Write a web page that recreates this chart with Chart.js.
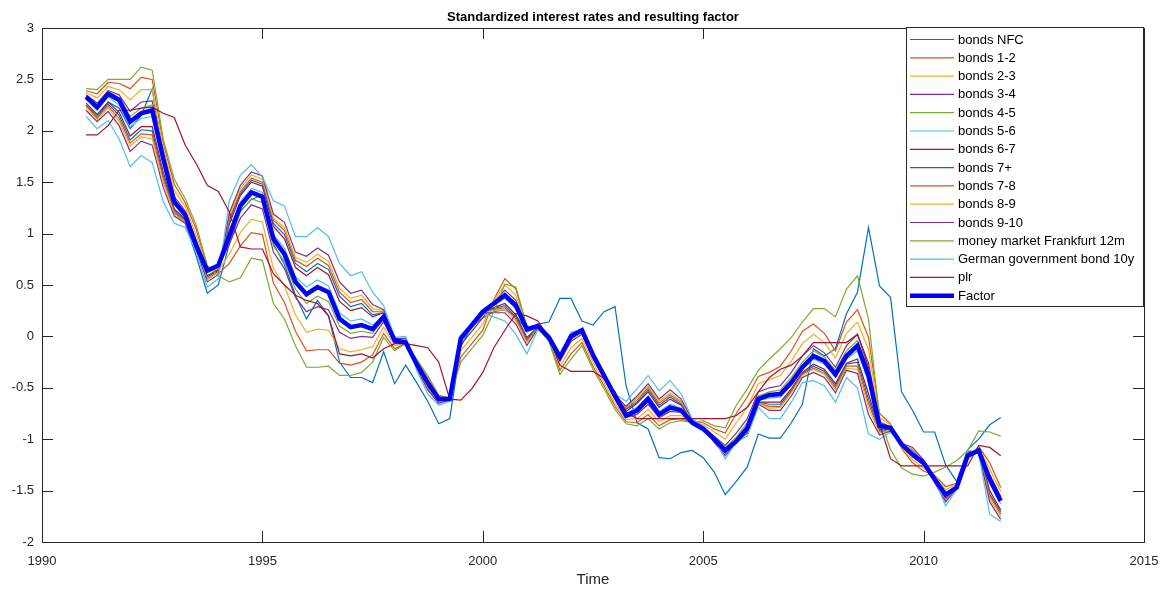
<!DOCTYPE html>
<html>
<head>
<meta charset="utf-8">
<title>Standardized interest rates and resulting factor</title>
<script src="https://cdn.jsdelivr.net/npm/chart.js@4.4.0/dist/chart.umd.min.js"></script>
<style>
  html, body { margin: 0; padding: 0; background: #ffffff; }
  #wrap { width: 1166px; height: 589px; }
</style>
</head>
<body>
<div id="wrap"><canvas id="chart" width="1166" height="589"></canvas></div>
<script>
// Quarterly observations, 1991Q1 - 2011Q4
const quarters = [
    1991, 1991.25, 1991.5, 1991.75, 1992, 1992.25, 1992.5, 1992.75,
    1993, 1993.25, 1993.5, 1993.75, 1994, 1994.25, 1994.5, 1994.75,
    1995, 1995.25, 1995.5, 1995.75, 1996, 1996.25, 1996.5, 1996.75,
    1997, 1997.25, 1997.5, 1997.75, 1998, 1998.25, 1998.5, 1998.75,
    1999, 1999.25, 1999.5, 1999.75, 2000, 2000.25, 2000.5, 2000.75,
    2001, 2001.25, 2001.5, 2001.75, 2002, 2002.25, 2002.5, 2002.75,
    2003, 2003.25, 2003.5, 2003.75, 2004, 2004.25, 2004.5, 2004.75,
    2005, 2005.25, 2005.5, 2005.75, 2006, 2006.25, 2006.5, 2006.75,
    2007, 2007.25, 2007.5, 2007.75, 2008, 2008.25, 2008.5, 2008.75,
    2009, 2009.25, 2009.5, 2009.75, 2010, 2010.25, 2010.5, 2010.75,
    2011, 2011.25, 2011.5, 2011.75
];

// Standardized series
const bondsNFC = [
    2.25, 2.12, 2.28, 2.22, 2.02, 2.15, 2.41, 1.70, 1.20, 1.10,
    0.78, 0.42, 0.50, 0.90, 1.22, 1.33, 1.38, 0.90, 0.70, 0.40,
    0.17, 0.35, 0.20, -0.25, -0.40, -0.40, -0.45, -0.15, -0.46, -0.28,
    -0.45, -0.63, -0.85, -0.80, -0.10, 0.10, 0.18, 0.24, 0.26, 0.20,
    0.06, 0.12, 0.14, 0.37, 0.37, 0.15, 0.11, 0.24, 0.29, -0.48,
    -0.84, -0.90, -1.18, -1.19, -1.13, -1.11, -1.18, -1.32, -1.54, -1.41,
    -1.27, -0.95, -0.99, -0.99, -0.84, -0.66, -0.12, -0.19, -0.12, 0.22,
    0.43, 1.06, 0.49, 0.38, -0.54, -0.72, -0.93, -0.93, -1.25, -1.41,
    -1.10, -1.00, -0.86, -0.79
];
const bonds12 = [
    2.39, 2.36, 2.47, 2.46, 2.41, 2.52, 2.50, 1.88, 1.48, 1.30,
    1.04, 0.68, 0.61, 0.71, 0.88, 1.01, 0.99, 0.52, 0.33, 0.05,
    -0.14, -0.13, -0.13, -0.26, -0.28, -0.25, -0.18, 0.03, -0.12, -0.07,
    -0.23, -0.40, -0.58, -0.60, -0.20, -0.07, 0.06, 0.36, 0.56, 0.46,
    0.09, 0.08, -0.04, -0.33, -0.17, -0.06, -0.29, -0.48, -0.68, -0.83,
    -0.84, -0.76, -0.87, -0.81, -0.80, -0.84, -0.84, -0.90, -0.94, -0.75,
    -0.59, -0.39, -0.35, -0.29, -0.14, 0.05, 0.12, 0.03, -0.14, 0.14,
    0.26, -0.01, -0.75, -0.85, -1.09, -1.23, -1.31, -1.35, -1.46, -1.43,
    -1.18, -1.07, -1.23, -1.47
];
const bonds23 = [
    2.37, 2.32, 2.43, 2.40, 2.30, 2.40, 2.40, 1.83, 1.42, 1.26,
    0.98, 0.67, 0.64, 0.80, 1.01, 1.14, 1.11, 0.66, 0.49, 0.21,
    0.04, 0.07, 0.06, -0.12, -0.15, -0.13, -0.10, 0.09, -0.09, -0.07,
    -0.24, -0.41, -0.59, -0.60, -0.14, -0.01, 0.12, 0.35, 0.50, 0.40,
    0.09, 0.09, -0.03, -0.29, -0.11, -0.02, -0.25, -0.45, -0.65, -0.81,
    -0.80, -0.71, -0.83, -0.77, -0.77, -0.84, -0.86, -0.93, -1.00, -0.84,
    -0.69, -0.46, -0.42, -0.38, -0.24, -0.07, 0.02, -0.06, -0.21, 0.03,
    0.14, -0.13, -0.79, -0.86, -1.08, -1.20, -1.28, -1.36, -1.49, -1.44,
    -1.17, -1.08, -1.29, -1.51
];
const bonds34 = [
    2.35, 2.27, 2.39, 2.35, 2.19, 2.28, 2.29, 1.78, 1.36, 1.22,
    0.93, 0.65, 0.67, 0.90, 1.15, 1.28, 1.24, 0.82, 0.66, 0.38,
    0.24, 0.29, 0.26, 0.04, -0.02, 0.00, -0.01, 0.14, -0.06, -0.06,
    -0.26, -0.43, -0.60, -0.61, -0.08, 0.05, 0.18, 0.33, 0.45, 0.35,
    0.08, 0.10, -0.02, -0.24, -0.05, 0.02, -0.21, -0.41, -0.61, -0.79,
    -0.76, -0.66, -0.79, -0.73, -0.74, -0.84, -0.88, -0.97, -1.06, -0.94,
    -0.80, -0.54, -0.50, -0.48, -0.35, -0.19, -0.09, -0.16, -0.30, -0.09,
    0.02, -0.26, -0.83, -0.88, -1.06, -1.17, -1.25, -1.38, -1.52, -1.46,
    -1.16, -1.10, -1.34, -1.56
];
const bonds45 = [
    2.34, 2.25, 2.38, 2.32, 2.14, 2.22, 2.25, 1.75, 1.34, 1.20,
    0.90, 0.65, 0.68, 0.94, 1.21, 1.34, 1.30, 0.88, 0.73, 0.46,
    0.32, 0.39, 0.34, 0.10, 0.03, 0.05, 0.03, 0.17, -0.05, -0.06,
    -0.26, -0.44, -0.61, -0.61, -0.05, 0.08, 0.21, 0.33, 0.42, 0.32,
    0.07, 0.10, -0.01, -0.22, -0.03, 0.04, -0.20, -0.40, -0.60, -0.78,
    -0.74, -0.63, -0.78, -0.71, -0.73, -0.84, -0.89, -0.98, -1.08, -0.98,
    -0.84, -0.58, -0.54, -0.52, -0.40, -0.25, -0.14, -0.20, -0.33, -0.14,
    -0.04, -0.32, -0.85, -0.88, -1.06, -1.16, -1.24, -1.38, -1.53, -1.46,
    -1.16, -1.10, -1.37, -1.58
];
const bonds56 = [
    2.31, 2.20, 2.33, 2.25, 2.04, 2.12, 2.14, 1.68, 1.28, 1.17,
    0.87, 0.62, 0.67, 1.02, 1.31, 1.44, 1.40, 0.99, 0.86, 0.58,
    0.48, 0.55, 0.49, 0.23, 0.15, 0.17, 0.11, 0.20, -0.04, -0.05,
    -0.28, -0.46, -0.62, -0.61, -0.02, 0.11, 0.24, 0.30, 0.37, 0.27,
    0.04, 0.10, -0.01, -0.20, 0.00, 0.06, -0.18, -0.38, -0.58, -0.75,
    -0.69, -0.58, -0.73, -0.66, -0.70, -0.84, -0.90, -1.00, -1.12, -1.02,
    -0.90, -0.62, -0.60, -0.59, -0.47, -0.32, -0.22, -0.27, -0.40, -0.22,
    -0.14, -0.45, -0.89, -0.89, -1.05, -1.14, -1.22, -1.39, -1.55, -1.47,
    -1.15, -1.11, -1.43, -1.63
];
const bonds67 = [
    2.27, 2.16, 2.28, 2.18, 1.95, 2.04, 2.04, 1.60, 1.24, 1.14,
    0.86, 0.59, 0.65, 1.09, 1.37, 1.50, 1.46, 1.07, 0.95, 0.67,
    0.59, 0.67, 0.60, 0.34, 0.25, 0.28, 0.19, 0.23, -0.03, -0.04,
    -0.29, -0.49, -0.63, -0.62, -0.01, 0.11, 0.23, 0.28, 0.32, 0.21,
    -0.01, 0.09, -0.01, -0.20, 0.01, 0.06, -0.19, -0.38, -0.57, -0.73,
    -0.65, -0.54, -0.69, -0.61, -0.67, -0.83, -0.89, -1.01, -1.14, -1.02,
    -0.92, -0.64, -0.64, -0.64, -0.51, -0.35, -0.27, -0.32, -0.46, -0.26,
    -0.22, -0.56, -0.91, -0.90, -1.05, -1.12, -1.21, -1.40, -1.58, -1.48,
    -1.14, -1.12, -1.50, -1.69
];
const bonds7plus = [
    2.25, 2.15, 2.26, 2.15, 1.91, 2.01, 2.00, 1.56, 1.23, 1.13,
    0.86, 0.58, 0.64, 1.12, 1.39, 1.52, 1.48, 1.10, 0.99, 0.71,
    0.63, 0.71, 0.65, 0.39, 0.29, 0.32, 0.21, 0.23, -0.03, -0.04,
    -0.29, -0.49, -0.63, -0.62, -0.01, 0.11, 0.23, 0.27, 0.30, 0.19,
    -0.03, 0.09, -0.01, -0.20, 0.02, 0.06, -0.20, -0.37, -0.57, -0.71,
    -0.64, -0.52, -0.67, -0.59, -0.66, -0.82, -0.89, -1.01, -1.14, -1.02,
    -0.92, -0.64, -0.66, -0.66, -0.53, -0.36, -0.29, -0.34, -0.48, -0.27,
    -0.25, -0.61, -0.92, -0.91, -1.05, -1.11, -1.21, -1.40, -1.58, -1.48,
    -1.14, -1.12, -1.53, -1.71
];
const bonds78 = [
    2.24, 2.13, 2.24, 2.12, 1.88, 1.97, 1.96, 1.53, 1.21, 1.12,
    0.85, 0.56, 0.63, 1.14, 1.41, 1.54, 1.50, 1.13, 1.03, 0.74,
    0.68, 0.76, 0.69, 0.43, 0.33, 0.36, 0.24, 0.24, -0.03, -0.03,
    -0.30, -0.50, -0.64, -0.62, -0.01, 0.11, 0.23, 0.26, 0.28, 0.17,
    -0.05, 0.09, -0.01, -0.20, 0.02, 0.06, -0.20, -0.37, -0.57, -0.70,
    -0.62, -0.50, -0.65, -0.57, -0.64, -0.82, -0.89, -1.02, -1.15, -1.03,
    -0.93, -0.65, -0.68, -0.68, -0.54, -0.37, -0.31, -0.36, -0.50, -0.29,
    -0.29, -0.65, -0.93, -0.91, -1.05, -1.10, -1.21, -1.41, -1.59, -1.48,
    -1.13, -1.12, -1.55, -1.73
];
const bonds89 = [
    2.23, 2.11, 2.22, 2.09, 1.85, 1.94, 1.92, 1.50, 1.19, 1.11,
    0.85, 0.55, 0.62, 1.17, 1.44, 1.57, 1.53, 1.15, 1.06, 0.77,
    0.72, 0.80, 0.73, 0.47, 0.37, 0.40, 0.27, 0.25, -0.02, -0.03,
    -0.30, -0.51, -0.64, -0.62, 0.00, 0.12, 0.23, 0.25, 0.26, 0.15,
    -0.06, 0.08, -0.02, -0.19, 0.02, 0.07, -0.20, -0.37, -0.57, -0.69,
    -0.60, -0.48, -0.63, -0.55, -0.63, -0.82, -0.88, -1.02, -1.15, -1.03,
    -0.93, -0.65, -0.70, -0.69, -0.55, -0.38, -0.32, -0.37, -0.52, -0.31,
    -0.32, -0.69, -0.94, -0.91, -1.04, -1.10, -1.20, -1.41, -1.60, -1.48,
    -1.13, -1.13, -1.58, -1.75
];
const bonds910 = [
    2.20, 2.09, 2.19, 2.05, 1.80, 1.90, 1.86, 1.45, 1.17, 1.10,
    0.84, 0.53, 0.60, 1.20, 1.47, 1.60, 1.56, 1.19, 1.11, 0.82,
    0.78, 0.86, 0.79, 0.53, 0.42, 0.45, 0.31, 0.26, -0.02, -0.02,
    -0.31, -0.52, -0.65, -0.62, 0.00, 0.12, 0.23, 0.23, 0.23, 0.12,
    -0.09, 0.08, -0.02, -0.19, 0.03, 0.07, -0.21, -0.36, -0.57, -0.68,
    -0.58, -0.46, -0.61, -0.52, -0.61, -0.81, -0.88, -1.03, -1.16, -1.03,
    -0.94, -0.66, -0.72, -0.72, -0.58, -0.40, -0.35, -0.40, -0.55, -0.33,
    -0.36, -0.76, -0.96, -0.92, -1.04, -1.08, -1.20, -1.42, -1.61, -1.48,
    -1.12, -1.13, -1.61, -1.78
];
const moneyMarket12m = [
    2.41, 2.40, 2.50, 2.50, 2.50, 2.62, 2.59, 1.92, 1.53, 1.34,
    1.08, 0.69, 0.59, 0.53, 0.57, 0.76, 0.74, 0.32, 0.17, -0.09,
    -0.30, -0.30, -0.29, -0.38, -0.38, -0.35, -0.25, -0.01, -0.14, -0.07,
    -0.22, -0.38, -0.57, -0.60, -0.25, -0.12, 0.01, 0.24, 0.51, 0.48,
    0.10, 0.08, -0.05, -0.37, -0.22, -0.09, -0.32, -0.51, -0.71, -0.85,
    -0.87, -0.80, -0.90, -0.84, -0.82, -0.84, -0.82, -0.87, -0.89, -0.67,
    -0.51, -0.33, -0.22, -0.12, -0.01, 0.14, 0.27, 0.27, 0.19, 0.46,
    0.59, 0.17, -0.80, -1.10, -1.28, -1.34, -1.36, -1.32, -1.27, -1.21,
    -1.11, -0.92, -0.93, -0.97
];
const germanGov10y = [
    2.14, 2.02, 2.10, 1.92, 1.65, 1.76, 1.69, 1.31, 1.10, 1.06,
    0.82, 0.48, 0.56, 1.32, 1.57, 1.67, 1.55, 1.32, 1.27, 0.97,
    0.97, 1.06, 0.97, 0.71, 0.59, 0.63, 0.43, 0.30, -0.01, 0.00,
    -0.33, -0.56, -0.67, -0.63, 0.01, 0.12, 0.22, 0.19, 0.15, 0.02,
    -0.17, 0.07, -0.02, -0.19, 0.04, 0.07, -0.22, -0.38, -0.56, -0.63,
    -0.51, -0.38, -0.53, -0.43, -0.56, -0.80, -0.87, -1.00, -1.19, -1.03,
    -0.97, -0.69, -0.80, -0.80, -0.64, -0.45, -0.43, -0.48, -0.64, -0.40,
    -0.50, -0.95, -1.00, -0.93, -1.04, -1.12, -1.25, -1.39, -1.65, -1.49,
    -1.10, -1.14, -1.73, -1.80
];
const plr = [
    1.96, 1.96, 2.05, 2.20, 2.20, 2.22, 2.23, 2.17, 2.13, 1.86,
    1.68, 1.47, 1.41, 1.21, 0.87, 0.85, 0.85, 0.61, 0.50, 0.40,
    0.35, 0.32, 0.20, -0.17, -0.19, -0.17, -0.21, -0.12, -0.07, -0.07,
    -0.09, -0.11, -0.25, -0.61, -0.62, -0.51, -0.35, -0.11, 0.06, 0.22,
    0.20, 0.15, -0.01, -0.28, -0.34, -0.34, -0.34, -0.41, -0.54, -0.74,
    -0.80, -0.80, -0.80, -0.80, -0.80, -0.80, -0.80, -0.80, -0.80, -0.77,
    -0.69, -0.54, -0.40, -0.32, -0.28, -0.19, -0.06, -0.06, -0.06, -0.06,
    0.02, -0.30, -0.85, -1.19, -1.26, -1.26, -1.26, -1.26, -1.26, -1.26,
    -1.26, -1.06, -1.08, -1.16
];
const factor = [
    2.33, 2.23, 2.36, 2.30, 2.09, 2.17, 2.20, 1.73, 1.31, 1.18,
    0.88, 0.64, 0.69, 0.98, 1.27, 1.40, 1.36, 0.95, 0.80, 0.53,
    0.41, 0.48, 0.43, 0.17, 0.09, 0.11, 0.07, 0.19, -0.04, -0.06,
    -0.27, -0.45, -0.61, -0.61, -0.02, 0.11, 0.24, 0.32, 0.40, 0.30,
    0.07, 0.10, -0.01, -0.20, 0.00, 0.06, -0.18, -0.38, -0.58, -0.77,
    -0.72, -0.61, -0.76, -0.69, -0.72, -0.84, -0.90, -1.00, -1.11, -1.02,
    -0.89, -0.61, -0.57, -0.56, -0.45, -0.30, -0.19, -0.24, -0.37, -0.19,
    -0.09, -0.38, -0.87, -0.89, -1.05, -1.15, -1.23, -1.39, -1.54, -1.47,
    -1.16, -1.11, -1.39, -1.60
];

const xTicks = [1990, 1995, 2000, 2005, 2010, 2015];
const yTicks = [-2, -1.5, -1, -0.5, 0, 0.5, 1, 1.5, 2, 2.5, 3];

// MATLAB default colour order
const seriesList = [
    { label: 'bonds NFC', values: bondsNFC, color: '#0072BD' },
    { label: 'bonds 1-2', values: bonds12, color: '#D95319' },
    { label: 'bonds 2-3', values: bonds23, color: '#EDB120' },
    { label: 'bonds 3-4', values: bonds34, color: '#7E2F8E' },
    { label: 'bonds 4-5', values: bonds45, color: '#77AC30' },
    { label: 'bonds 5-6', values: bonds56, color: '#4DBEEE' },
    { label: 'bonds 6-7', values: bonds67, color: '#A2142F' },
    { label: 'bonds 7+', values: bonds7plus, color: '#0072BD' },
    { label: 'bonds 7-8', values: bonds78, color: '#D95319' },
    { label: 'bonds 8-9', values: bonds89, color: '#EDB120' },
    { label: 'bonds 9-10', values: bonds910, color: '#7E2F8E' },
    { label: 'money market Frankfurt 12m', values: moneyMarket12m, color: '#77AC30' },
    { label: 'German government bond 10y', values: germanGov10y, color: '#4DBEEE' },
    { label: 'plr', values: plr, color: '#A2142F' },
    { label: 'Factor', values: factor, color: '#0000FF', width: 4.5 }
];

const FONT = "'Liberation Sans', Arial, Helvetica, sans-serif";
const AXIS_COLOR = '#262626';

// later series drawn on top (Chart.js draws higher order first)
const datasets = seriesList.map((s, i) => ({
    label: s.label,
    data: s.values.map((v, k) => ({ x: quarters[k], y: v })),
    borderColor: s.color,
    backgroundColor: s.color,
    borderWidth: s.width || 1.2,
    pointRadius: 0,
    fill: false,
    tension: 0,
    order: seriesList.length - i
}));

// Box, inward ticks, title, x label and legend in MATLAB style
const matlabFrame = {
    id: 'matlabFrame',
    afterDraw(chart) {
        const ctx = chart.ctx;
        const area = chart.chartArea;
        const xs = chart.scales.x;
        const ys = chart.scales.y;
        const tickLen = 11;

        ctx.save();
        ctx.strokeStyle = AXIS_COLOR;
        ctx.lineWidth = 1;
        ctx.strokeRect(Math.round(area.left) + 0.5, Math.round(area.top) + 0.5,
            Math.round(area.right - area.left), Math.round(area.bottom - area.top));

        ctx.beginPath();
        xTicks.forEach(t => {
            const px = Math.round(xs.getPixelForValue(t)) + 0.5;
            ctx.moveTo(px, area.bottom);
            ctx.lineTo(px, area.bottom - tickLen);
            ctx.moveTo(px, area.top);
            ctx.lineTo(px, area.top + tickLen);
        });
        yTicks.forEach(t => {
            const py = Math.round(ys.getPixelForValue(t)) + 0.5;
            ctx.moveTo(area.left, py);
            ctx.lineTo(area.left + tickLen, py);
            ctx.moveTo(area.right, py);
            ctx.lineTo(area.right - tickLen, py);
        });
        ctx.stroke();

        // title
        ctx.fillStyle = '#000000';
        ctx.font = 'bold 13px ' + FONT;
        ctx.textAlign = 'center';
        ctx.textBaseline = 'middle';
        ctx.fillText('Standardized interest rates and resulting factor', (area.left + area.right) / 2, 17);

        // x axis label
        ctx.fillStyle = AXIS_COLOR;
        ctx.font = '15px ' + FONT;
        ctx.fillText('Time', (area.left + area.right) / 2, 580);

        // legend
        const lx = 906, ly = 27, lw = 237, lh = 279;
        ctx.fillStyle = '#ffffff';
        ctx.fillRect(lx, ly, lw, lh);
        ctx.strokeStyle = AXIS_COLOR;
        ctx.lineWidth = 1;
        ctx.strokeRect(lx + 0.5, ly + 0.5, lw, lh);

        ctx.font = '13px ' + FONT;
        ctx.textAlign = 'left';
        ctx.textBaseline = 'middle';
        seriesList.forEach((s, i) => {
            const y = 39.5 + i * 18.3;
            ctx.strokeStyle = s.color;
            ctx.lineWidth = s.width || 1.2;
            ctx.beginPath();
            ctx.moveTo(910, y);
            ctx.lineTo(954, y);
            ctx.stroke();
            ctx.fillStyle = '#000000';
            ctx.fillText(s.label, 958, y + 0.5);
        });
        ctx.restore();
    }
};

new Chart(document.getElementById('chart'), {
    type: 'line',
    data: { datasets: datasets },
    options: {
        responsive: false,
        animation: false,
        devicePixelRatio: 1,
        parsing: true,
        layout: { padding: { top: 28, right: 22, left: 0, bottom: 0 } },
        plugins: {
            legend: { display: false },
            title: { display: false },
            tooltip: { enabled: false }
        },
        scales: {
            x: {
                type: 'linear',
                min: 1990,
                max: 2015,
                afterFit: scale => {
                    scale.height = 47;
                    scale.paddingLeft = 0;
                    scale.paddingRight = 0;
                },
                afterBuildTicks: scale => { scale.ticks = xTicks.map(v => ({ value: v })); },
                grid: { display: false, drawTicks: false },
                border: { display: false },
                ticks: {
                    padding: 12,
                    color: AXIS_COLOR,
                    font: { family: FONT, size: 13 },
                    maxRotation: 0,
                    autoSkip: false,
                    callback: v => String(v)
                }
            },
            y: {
                min: -2,
                max: 3,
                afterFit: scale => { scale.width = 42; },
                afterBuildTicks: scale => { scale.ticks = yTicks.map(v => ({ value: v })); },
                grid: { display: false, drawTicks: false },
                border: { display: false },
                ticks: {
                    padding: 8,
                    color: AXIS_COLOR,
                    font: { family: FONT, size: 13 },
                    autoSkip: false,
                    callback: v => String(v)
                }
            }
        }
    },
    plugins: [matlabFrame]
});
</script>
</body>
</html>
